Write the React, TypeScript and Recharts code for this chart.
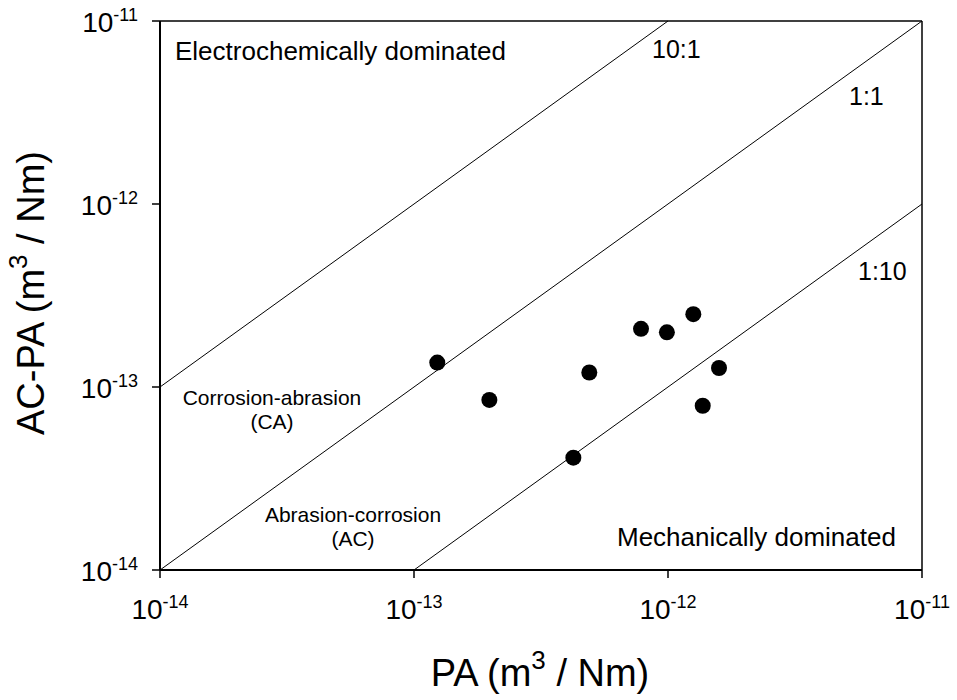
import React from "react";
import {
  ScatterChart,
  Scatter,
  XAxis,
  YAxis,
  ReferenceLine,
  Customized,
} from "recharts";

// PA vs AC-PA wear volumes (m^3 / Nm)
const paValues = [
  1.235e-13, 1.98e-13, 4.9e-13, 7.83e-13, 9.9e-13, 1.258e-12, 1.588e-12,
  1.37e-12, 4.24e-13,
];
const acPaValues = [
  1.36e-13, 8.5e-14, 1.2e-13, 2.08e-13, 1.99e-13, 2.5e-13, 1.27e-13, 7.9e-14,
  4.11e-14,
];

const tickValues = [1e-14, 1e-13, 1e-12, 1e-11];
const tickExponents = ["-14", "-13", "-12", "-11"];

// ratio lines AC-PA : PA
const ratioLines = [
  { name: "10:1", from: [1e-14, 1e-13], to: [1e-12, 1e-11] },
  { name: "1:1", from: [1e-14, 1e-14], to: [1e-11, 1e-11] },
  { name: "1:10", from: [1e-13, 1e-14], to: [1e-11, 1e-12] },
];

const points = paValues.map((pa, i) => ({ pa, acpa: acPaValues[i] }));

const FONT = "'Liberation Sans', Arial, Helvetica, sans-serif";
const DOMAIN: [number, number] = [1e-14, 1e-11];

function expOf(v: number) {
  const i = tickValues.findIndex((t) => Math.abs(Math.log10(t) - Math.log10(v)) < 0.01);
  return i >= 0 ? tickExponents[i] : String(Math.round(Math.log10(v)));
}

function XTick({ x, y, payload }: any) {
  return (
    <text x={x} y={y + 41} textAnchor="middle" fontFamily={FONT} fill="#000">
      <tspan fontSize={28}>10</tspan>
      <tspan fontSize={18} dy={-11}>
        {expOf(payload.value)}
      </tspan>
    </text>
  );
}

function YTick({ x, y, payload }: any) {
  return (
    <text x={x - 14} y={y + 11} textAnchor="end" fontFamily={FONT} fill="#000">
      <tspan fontSize={28}>10</tspan>
      <tspan fontSize={18} dy={-11}>
        {expOf(payload.value)}
      </tspan>
    </text>
  );
}

function Annotations() {
  const t = (x: number, y: number, s: string, size: number, anchor = "start") => (
    <text
      key={s}
      x={x}
      y={y}
      fontSize={size}
      fontFamily={FONT}
      textAnchor={anchor}
      fill="#000"
    >
      {s}
    </text>
  );
  const two = (x: number, y: number, a: string, b: string) => (
    <text
      key={a}
      x={x}
      y={y}
      fontSize={21}
      fontFamily={FONT}
      textAnchor="middle"
      fill="#000"
    >
      <tspan x={x}>{a}</tspan>
      <tspan x={x} dy={24.5}>
        {b}
      </tspan>
    </text>
  );
  return (
    <g>
      {t(175, 60, "Electrochemically dominated", 26)}
      {t(617, 546, "Mechanically dominated", 26)}
      {two(272, 404.5, "Corrosion-abrasion", "(CA)")}
      {two(353, 521.5, "Abrasion-corrosion", "(AC)")}
      {t(652, 58, "10:1", 25)}
      {t(849, 105, "1:1", 25)}
      {t(858, 280, "1:10", 25)}
      {/* axis titles */}
      <text x={540} y={686} textAnchor="middle" fontFamily={FONT} fill="#000">
        <tspan fontSize={38}>PA (m</tspan>
        <tspan fontSize={26} dy={-17}>3</tspan>
        <tspan fontSize={38} dy={17}> / Nm)</tspan>
      </text>
      <text
        transform="translate(44, 293) rotate(-90)"
        textAnchor="middle"
        fontFamily={FONT}
        fill="#000"
      >
        <tspan fontSize={38}>AC-PA (m</tspan>
        <tspan fontSize={26} dy={-17}>3</tspan>
        <tspan fontSize={38} dy={17}> / Nm)</tspan>
      </text>
    </g>
  );
}

export default function App() {
  return (
    <div style={{ position: "absolute", left: 0, top: 0, background: "#fff" }}>
      <ScatterChart
        width={957}
        height={700}
        margin={{ top: 21, right: 35, bottom: 0, left: 0 }}
      >
        <XAxis
          type="number"
          dataKey="pa"
          scale="log"
          domain={DOMAIN}
          ticks={tickValues}
          allowDataOverflow
          height={130}
          tickSize={8}
          tickMargin={0}
          axisLine={{ stroke: "#000", strokeWidth: 2 }}
          tickLine={{ stroke: "#000", strokeWidth: 1.5 }}
          tick={<XTick />}
          interval={0}
        />
        <YAxis
          type="number"
          dataKey="acpa"
          scale="log"
          domain={DOMAIN}
          ticks={tickValues}
          allowDataOverflow
          width={160}
          tickSize={8}
          tickMargin={0}
          axisLine={{ stroke: "#000", strokeWidth: 2 }}
          tickLine={{ stroke: "#000", strokeWidth: 1.5 }}
          tick={<YTick />}
          interval={0}
        />
        <ReferenceLine y={1e-11} stroke="#000" strokeWidth={1.5} />
        <ReferenceLine x={1e-11} stroke="#000" strokeWidth={1.5} />
        {ratioLines.map((l) => (
          <ReferenceLine
            key={l.name}
            segment={[
              { x: l.from[0], y: l.from[1] },
              { x: l.to[0], y: l.to[1] },
            ]}
            stroke="#000"
            strokeWidth={1}
          />
        ))}
        <Scatter
          data={points}
          fill="#000"
          isAnimationActive={false}
          shape={(p: any) => <circle cx={p.cx} cy={p.cy} r={8} fill="#000" />}
        />
        <Customized component={Annotations} />
      </ScatterChart>
    </div>
  );
}
